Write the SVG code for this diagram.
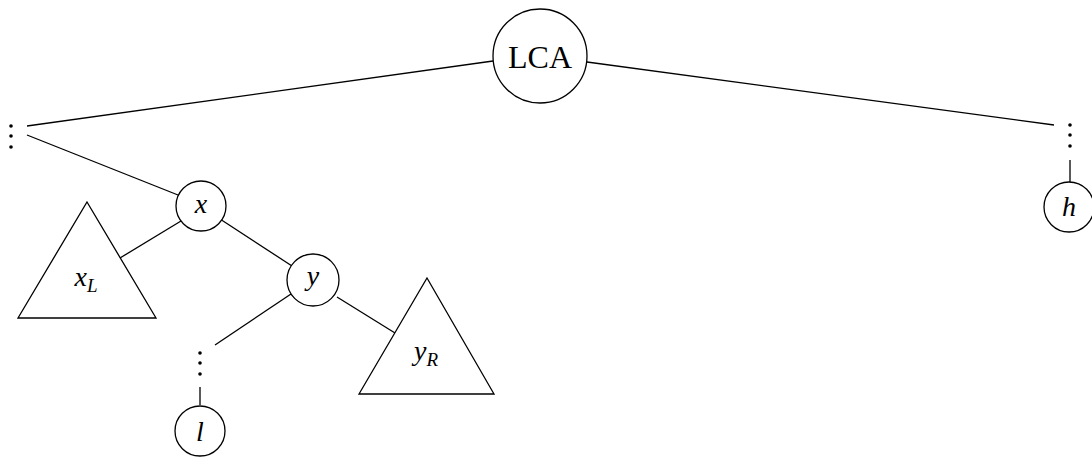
<svg xmlns="http://www.w3.org/2000/svg" width="1092" height="458" viewBox="0 0 1092 458">
<style>
.n{fill:#fff;stroke:#000;stroke-width:1.3}
.e{stroke:#000;stroke-width:1.3;fill:none}
.t{font-family:"Liberation Serif","DejaVu Serif",serif;fill:#000;text-anchor:middle}
.m{font-style:italic;font-size:28px}
.s{font-size:19px}
.d{fill:#000}
</style>
<rect width="1092" height="458" fill="#fff"/>
<g id="connectors">
<line class="e" x1="493" y1="61" x2="27" y2="126"/>
<line class="e" x1="587" y1="62" x2="1054" y2="125"/>
<line class="e" x1="27" y1="135" x2="178" y2="195"/>
<line class="e" x1="1070" y1="160" x2="1070" y2="182"/>
<line class="e" x1="181" y1="221" x2="120" y2="258"/>
<line class="e" x1="220" y1="219" x2="292" y2="266"/>
<line class="e" x1="291" y1="294" x2="215" y2="345"/>
<line class="e" x1="337" y1="297" x2="395" y2="333"/>
<line class="e" x1="200" y1="387" x2="200" y2="405"/>
</g>
<g id="node-lca"><circle class="n" cx="540" cy="56" r="47"/><text class="t" x="540" y="68" font-size="32">LCA</text></g>
<g id="dots-left"><circle class="d" cx="11" cy="126" r="1.8"/><circle class="d" cx="11" cy="136" r="1.8"/><circle class="d" cx="11" cy="147" r="1.8"/></g>
<g id="dots-right"><circle class="d" cx="1070" cy="125" r="1.8"/><circle class="d" cx="1070" cy="135" r="1.8"/><circle class="d" cx="1070" cy="146" r="1.8"/></g>
<g id="node-h"><circle class="n" cx="1069" cy="207" r="25"/><text class="t m" x="1069" y="216">h</text></g>
<g id="node-x"><circle class="n" cx="201" cy="206" r="25"/><text class="t m" x="201" y="213">x</text></g>
<g id="tri-xL"><polygon class="n" points="87,202 156,318 18,318"/><text class="t m" x="86" y="286">x<tspan class="s" dy="6" font-style="italic">L</tspan></text></g>
<g id="node-y"><circle class="n" cx="313" cy="280" r="26"/><text class="t m" x="313" y="285">y</text></g>
<g id="tri-yR"><polygon class="n" points="427,278 494,394 359,394"/><text class="t m" x="426" y="360">y<tspan class="s" dy="6" font-style="italic">R</tspan></text></g>
<g id="dots-l"><circle class="d" cx="200" cy="353" r="1.8"/><circle class="d" cx="200" cy="363" r="1.8"/><circle class="d" cx="200" cy="374" r="1.8"/></g>
<g id="node-l"><circle class="n" cx="200" cy="431" r="25"/><text class="t m" x="200" y="441">l</text></g>
</svg>
